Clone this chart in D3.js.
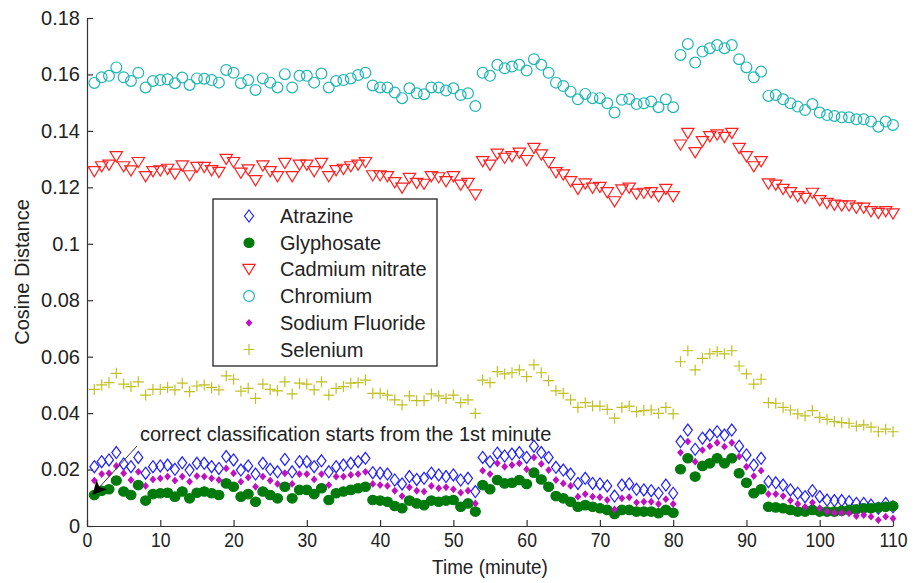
<!DOCTYPE html>
<html>
<head>
<meta charset="utf-8">
<script src="https://cdn.jsdelivr.net/npm/d3@7"></script>
<style>
  body { margin: 0; background: #fff; }
  text { font-family: Arial, "Liberation Sans", sans-serif; fill: #222; }
</style>
</head>
<body>
<svg width="914" height="583"></svg>
<script>
// minutes 1..110
let minutes = [1,2,3,4,5,6,7,8,9,10,11,12,13,14,15,16,17,18,19,20,21,22,23,24,25,26,27,28,29,30,
  31,32,33,34,35,36,37,38,39,40,41,42,43,44,45,46,47,48,49,50,51,52,53,54,55,56,57,58,59,60,
  61,62,63,64,65,66,67,68,69,70,71,72,73,74,75,76,77,78,79,80,81,82,83,84,85,86,87,88,89,90,
  91,92,93,94,95,96,97,98,99,100,101,102,103,104,105,106,107,108,109,110];

let atrazine = [0.021,0.0228,0.0234,0.026,0.022,0.021,0.0243,0.0187,0.021,0.0213,
  0.0216,0.0201,0.0224,0.0198,0.0222,0.0222,0.021,0.0204,0.0246,0.0234,
  0.0198,0.0213,0.0184,0.0222,0.0201,0.0192,0.0236,0.0192,0.0228,0.0228,
  0.021,0.0231,0.0192,0.021,0.0216,0.0222,0.0228,0.024,0.0189,0.0187,
  0.0184,0.0163,0.0149,0.0175,0.0165,0.0169,0.0187,0.0181,0.0175,0.0181,
  0.0163,0.0169,0.0122,
  0.0243,0.0228,0.0258,0.0248,0.0255,0.026,0.0243,0.0283,0.026,0.0243,
  0.0208,0.0198,0.0184,0.0151,0.0169,0.0151,0.0149,0.0142,0.0106,0.0145,
  0.0149,0.013,0.0128,0.0125,0.0116,0.0145,0.0116,
  0.0299,0.034,0.0272,0.0311,0.0322,0.0334,0.0322,0.034,0.0283,0.0252,
  0.0216,0.024,0.0157,0.0153,0.0145,0.0128,0.0116,0.0104,0.0125,0.0104,
  0.0092,0.009,0.009,0.0086,0.008,0.008,0.0074,0.0063,0.008,0.0068];

let glyphosate = [0.011,0.0125,0.013,0.0161,0.0122,0.011,0.0145,0.009,0.0113,0.0116,
  0.0118,0.0104,0.0122,0.0098,0.0118,0.0122,0.0116,0.011,0.0151,0.0139,
  0.0104,0.0113,0.0086,0.0122,0.011,0.0098,0.0139,0.0098,0.0128,0.0128,
  0.0113,0.0134,0.0092,0.0116,0.0122,0.0128,0.0134,0.0139,0.0092,0.009,
  0.0086,0.0071,0.0063,0.009,0.008,0.0074,0.009,0.0086,0.009,0.0092,
  0.0068,0.008,0.0051,
  0.0145,0.013,0.0163,0.0151,0.0153,0.0163,0.0149,0.0189,0.0165,0.0139,
  0.0106,0.0098,0.0086,0.0068,0.0074,0.0068,0.0063,0.0057,0.0043,0.0057,
  0.0057,0.0051,0.0051,0.0051,0.0045,0.0057,0.0047,
  0.0201,0.024,0.0175,0.0213,0.0222,0.024,0.0222,0.024,0.0187,0.0153,
  0.0116,0.013,0.0068,0.0066,0.0063,0.0057,0.0051,0.0051,0.0057,0.0051,
  0.0051,0.0051,0.0054,0.0057,0.0059,0.0063,0.0063,0.0066,0.0068,0.0071];

let cadmium = [0.1256,0.1273,0.1279,0.1309,0.1273,0.1258,0.1288,0.1238,0.1256,0.1258,
  0.1264,0.1247,0.1276,0.1241,0.1271,0.1271,0.1259,0.1253,0.1299,0.1288,
  0.125,0.1262,0.1224,0.1276,0.1256,0.1238,0.1285,0.1238,0.1279,0.1279,
  0.1256,0.1285,0.1238,0.1259,0.1264,0.1273,0.1279,0.1288,0.1241,0.1241,
  0.1238,0.1217,0.1197,0.1232,0.1214,0.1211,0.1238,0.1234,0.122,0.1238,
  0.1208,0.1214,0.1173,
  0.1291,0.1279,0.1318,0.1303,0.1309,0.1321,0.1295,0.1338,0.1315,0.1288,
  0.1252,0.1244,0.122,0.1193,0.1212,0.1197,0.12,0.1181,0.1149,0.1191,
  0.1197,0.1176,0.1179,0.1181,0.1167,0.1193,0.1167,
  0.135,0.1391,0.1323,0.1362,0.138,0.1386,0.1377,0.1391,0.1338,0.1309,
  0.1273,0.1291,0.1212,0.1208,0.1193,0.1181,0.1167,0.1161,0.1179,0.1153,
  0.1143,0.1137,0.1134,0.1134,0.1126,0.1126,0.1114,0.1108,0.1114,0.1106];

let chromium = [0.157,0.159,0.1595,0.1625,0.159,0.1577,0.1606,0.1554,0.1577,0.158,
  0.1583,0.1569,0.1589,0.1563,0.1586,0.1585,0.158,0.1571,0.1616,0.1606,
  0.1569,0.158,0.1545,0.1586,0.1571,0.1554,0.1601,0.1554,0.1595,0.1595,
  0.1571,0.1603,0.1554,0.1577,0.158,0.1586,0.1598,0.1606,0.1561,0.1554,
  0.1554,0.1536,0.1516,0.1551,0.1533,0.153,0.1554,0.1554,0.1543,0.1551,
  0.1527,0.1533,0.1488,
  0.1606,0.1595,0.1634,0.1622,0.1628,0.1634,0.1614,0.1654,0.1634,0.1606,
  0.1571,0.1559,0.1539,0.1512,0.1531,0.1516,0.1516,0.1498,0.1465,0.151,
  0.1513,0.1495,0.1498,0.1504,0.1484,0.1512,0.1484,
  0.1669,0.1708,0.1642,0.1681,0.1693,0.1704,0.1693,0.1704,0.1654,0.1625,
  0.159,0.161,0.1524,0.1527,0.1512,0.1498,0.1486,0.1474,0.1495,0.1465,
  0.1456,0.1453,0.1448,0.1448,0.1441,0.1441,0.1433,0.1415,0.1433,0.1421];

let sodium = [0.0161,0.0184,0.0187,0.0213,0.0187,0.0163,0.0192,0.0142,0.0165,0.0169,
  0.0175,0.0161,0.0175,0.0157,0.0177,0.0175,0.0169,0.0163,0.0204,0.0187,
  0.0157,0.0172,0.0139,0.0175,0.0161,0.0149,0.0187,0.0149,0.0184,0.0184,
  0.0165,0.0184,0.0145,0.0175,0.0175,0.0181,0.0184,0.0192,0.0149,0.0145,
  0.0142,0.0125,0.0106,0.0137,0.0125,0.0122,0.0142,0.0134,0.0137,0.013,
  0.0118,0.0125,0.008,
  0.0196,0.0184,0.0222,0.021,0.0216,0.0222,0.0201,0.0243,0.022,0.0198,
  0.0163,0.0151,0.0142,0.0104,0.0113,0.0104,0.0102,0.0092,0.0059,0.0098,
  0.0102,0.0083,0.0086,0.0086,0.0078,0.0095,0.0078,
  0.026,0.0299,0.0228,0.0269,0.0283,0.0295,0.0281,0.0295,0.0246,0.021,
  0.0177,0.0196,0.0113,0.0113,0.0106,0.009,0.0078,0.0068,0.0083,0.0063,
  0.0051,0.0047,0.0047,0.0045,0.0035,0.0039,0.0033,0.0021,0.0033,0.0027];

let selenium = [0.0484,0.05,0.0508,0.0541,0.0503,0.0494,0.0511,0.0464,0.0484,0.0484,
  0.0491,0.0482,0.0506,0.0476,0.0496,0.05,0.0491,0.0482,0.0532,0.052,
  0.0478,0.0488,0.0452,0.0503,0.0484,0.0479,0.0511,0.0468,0.0506,0.0503,
  0.0482,0.0511,0.0464,0.0488,0.0494,0.0506,0.0508,0.0517,0.047,0.047,
  0.0464,0.0447,0.0429,0.0461,0.0444,0.0444,0.0468,0.0461,0.0452,0.0464,
  0.0437,0.0447,0.0399,
  0.0517,0.0508,0.0547,0.0539,0.0543,0.0553,0.0529,0.0571,0.0543,0.0515,
  0.0479,0.047,0.0447,0.042,0.0437,0.0425,0.0425,0.0413,0.0382,0.042,
  0.0425,0.0405,0.0409,0.0411,0.0399,0.042,0.0397,
  0.0582,0.0621,0.0553,0.0594,0.061,0.0618,0.061,0.0621,0.0567,0.0539,
  0.0503,0.052,0.0437,0.0435,0.042,0.0411,0.0397,0.039,0.0409,0.0385,
  0.0378,0.037,0.0366,0.0364,0.0354,0.0358,0.035,0.0334,0.0343,0.0334];

let names = ['Atrazine','Glyphosate','Cadmium nitrate','Chromium','Sodium Fluoride','Selenium'];
let xTicks = [0,10,20,30,40,50,60,70,80,90,100,110];
let yTicks = [0,0.02,0.04,0.06,0.08,0.1,0.12,0.14,0.16,0.18];

// marker styles
let markers = {
  'Atrazine':        {d: 'M0,-6L4.5,0L0,6L-4.5,0Z', fill: 'none', stroke: '#1f1fff'},
  'Glyphosate':      {d: 'M-5,0A5,4.7 0 1,0 5,0A5,4.7 0 1,0 -5,0Z', fill: '#007a0c', stroke: '#007a0c'},
  'Cadmium nitrate': {d: 'M-6.2,-5L6.2,-5L0,5.2Z', fill: 'none', stroke: '#ff2020'},
  'Chromium':        {d: 'M-5.4,0A5.4,5.4 0 1,0 5.4,0A5.4,5.4 0 1,0 -5.4,0Z', fill: 'none', stroke: '#1fb5b5'},
  'Sodium Fluoride': {d: 'M0,-3L2.6,0L0,3L-2.6,0Z', fill: '#c010c0', stroke: '#c010c0'},
  'Selenium':        {d: 'M-5.5,0H5.5M0,-5.5V5.5', fill: 'none', stroke: '#c0c020'}
};
let seriesData = {
  'Atrazine': atrazine, 'Glyphosate': glyphosate, 'Cadmium nitrate': cadmium,
  'Chromium': chromium, 'Sodium Fluoride': sodium, 'Selenium': selenium
};

let svg = d3.select('svg');
let x = d3.scaleLinear().domain([0, 110]).range([87, 893]);
let y = d3.scaleLinear().domain([0, 0.18]).range([526, 18]);

// axes (ticks pointing inward, no box)
let xAxis = svg.append('g')
  .attr('transform', 'translate(0,526)')
  .call(d3.axisBottom(x).tickValues(xTicks).tickSizeInner(-6).tickSizeOuter(0).tickPadding(7));
xAxis.selectAll('text')
  .attr('font-size', 20)
  .attr('transform', 'scale(0.88,1)');

let yAxis = svg.append('g')
  .attr('transform', 'translate(87,0)')
  .call(d3.axisLeft(y).tickValues(yTicks).tickSizeInner(-6).tickSizeOuter(0).tickPadding(7)
    .tickFormat(function(d){ return String(+d.toFixed(2)); }));
yAxis.selectAll('text').attr('font-size', 20);

svg.selectAll('.domain, .tick line').attr('stroke', '#333').attr('stroke-width', 1.2);

// points
names.forEach(function(name){
  let m = markers[name];
  svg.append('g')
    .selectAll('path')
    .data(seriesData[name])
    .enter().append('path')
    .attr('transform', function(d, i){ return 'translate(' + x(minutes[i]) + ',' + y(d) + ')'; })
    .attr('d', m.d)
    .attr('fill', m.fill)
    .attr('stroke', m.stroke)
    .attr('stroke-width', 1.2);
});

// annotation with arrow
svg.append('defs').append('marker')
  .attr('id', 'head')
  .attr('viewBox', '0 0 10 10')
  .attr('refX', 9).attr('refY', 5)
  .attr('markerWidth', 17).attr('markerHeight', 14)
  .attr('markerUnits', 'userSpaceOnUse')
  .attr('orient', 'auto')
  .append('path').attr('d', 'M0,0L10,5L0,10L2.5,5Z').attr('fill', '#000');

svg.append('line')
  .attr('x1', 137).attr('y1', 446)
  .attr('x2', x(minutes[0]) - 1).attr('y2', y(glyphosate[0]) - 1)
  .attr('stroke', '#333').attr('stroke-width', 1)
  .attr('marker-end', 'url(#head)');

svg.append('text')
  .attr('x', 140).attr('y', 441)
  .attr('font-size', 20)
  .text('correct classification starts from the 1st minute');

// axis labels
svg.append('text')
  .attr('transform', 'translate(490,574) scale(0.9,1)')
  .attr('text-anchor', 'middle')
  .attr('font-size', 21)
  .text('Time (minute)');

svg.append('text')
  .attr('transform', 'translate(29,272) rotate(-90)')
  .attr('text-anchor', 'middle')
  .attr('font-size', 20)
  .text('Cosine Distance');

// legend
let legend = svg.append('g');
legend.append('rect')
  .attr('x', 213).attr('y', 199).attr('width', 224).attr('height', 167)
  .attr('fill', '#fff').attr('stroke', '#222').attr('stroke-width', 1.3);
names.forEach(function(name, i){
  let m = markers[name];
  let cy = 216 + i * 26.7;
  legend.append('path')
    .attr('transform', 'translate(249,' + cy + ')')
    .attr('d', m.d)
    .attr('fill', m.fill).attr('stroke', m.stroke).attr('stroke-width', 1.2);
  legend.append('text')
    .attr('x', 280).attr('y', cy + 7)
    .attr('font-size', 20)
    .text(name);
});
</script>
</body>
</html>
